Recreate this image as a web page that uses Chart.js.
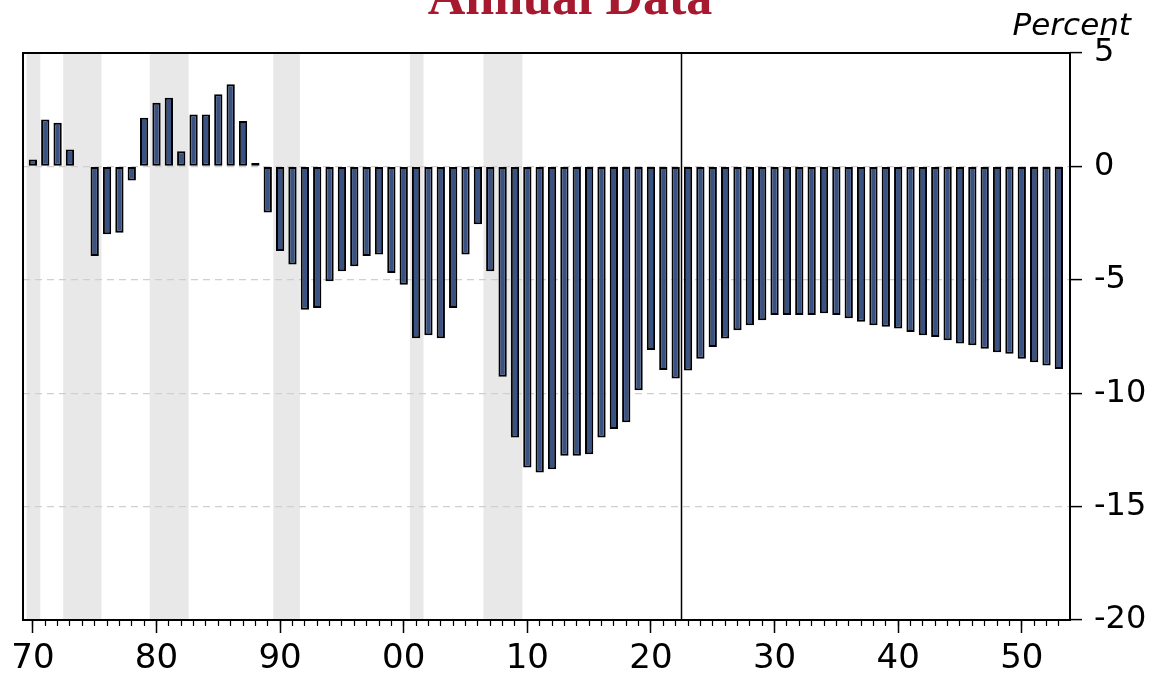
<!DOCTYPE html>
<html>
<head>
<meta charset="utf-8">
<script src="https://cdn.jsdelivr.net/npm/chart.js@4/dist/chart.umd.min.js"></script>
<style>
  html, body { margin: 0; padding: 0; background: #ffffff; }
  #wrap { width: 1154px; height: 678px; position: relative; }
</style>
</head>
<body>
<div id="wrap"><canvas id="c" width="1154" height="678"></canvas></div>
<script>
// ---- Data ----
const years = [];
for (let y = 1970; y <= 2053; y++) years.push(y);

const values = [
  0.30, 2.07, 1.92, 0.74, null, -3.95, -2.99, -2.92, -0.62, 2.14,   // 1970-1979
  2.81, 3.03, 0.67, 2.29, 2.29, 3.18, 3.62, 2.00, 0.15, -2.03,      // 1980-1989
  -3.73, -4.32, -6.32, -6.24, -5.06, -4.62, -4.40, -3.95, -3.88, -4.70, // 1990-1999
  -5.22, -7.58, -7.44, -7.58, -6.24, -3.88, -2.55, -4.62, -9.28, -11.95, // 2000-2009
  -13.28, -13.50, -13.35, -12.76, -12.76, -12.69, -11.95, -11.58, -11.28, -9.87, // 2010-2019
  -8.10, -8.98, -9.35, -9.00, -8.48, -7.96, -7.59, -7.22, -7.00, -6.78, // 2020-2029
  -6.55, -6.55, -6.55, -6.55, -6.48, -6.55, -6.70, -6.85, -7.00, -7.07, // 2030-2039
  -7.15, -7.30, -7.44, -7.52, -7.67, -7.81, -7.89, -8.04, -8.19, -8.26, // 2040-2049
  -8.48, -8.63, -8.78, -8.93                                           // 2050-2053
];

const recessions = [[1969.5, 1970.6], [1972.45, 1975.55], [1979.45, 1982.6], [1989.45, 1991.6], [2000.5, 2001.6], [2006.45, 2009.6]];
const forecastStart = 2022.45;
const majorTicks = [1970, 1980, 1990, 2000, 2010, 2020, 2030, 2040, 2050];
const yTicks = [5, 0, -5, -10, -15, -20];
const xMin = 1969.2, xMax = 2053.9;
const titleText = "Annual Data";
const unitText = "Percent";

// ---- Plugins ----
const shadingPlugin = {
  id: 'shading',
  beforeDraw(chart) {
    const {ctx, chartArea: a, scales: {x}} = chart;
    ctx.save();
    ctx.beginPath(); ctx.rect(a.left, a.top, a.right - a.left, a.bottom - a.top); ctx.clip();
    ctx.fillStyle = '#e8e8e8';
    recessions.forEach(([s, e]) => {
      const x1 = x.getPixelForValue(s), x2 = x.getPixelForValue(e);
      ctx.fillRect(x1, a.top, x2 - x1, a.bottom - a.top);
    });
    ctx.restore();
  }
};

const framePlugin = {
  id: 'frame',
  afterDatasetsDraw(chart) {
    const {ctx, chartArea: a, scales: {x}} = chart;
    ctx.save();
    const fx = Math.round(x.getPixelForValue(forecastStart)) + 0.5;
    ctx.strokeStyle = '#000'; ctx.lineWidth = 1.5;
    ctx.beginPath(); ctx.moveTo(fx, a.top); ctx.lineTo(fx, a.bottom); ctx.stroke();
    ctx.lineWidth = 2;
    ctx.strokeRect(a.left, a.top, a.right - a.left, a.bottom - a.top);
    ctx.restore();
  },
  afterDraw(chart) {
    const {ctx} = chart;
    ctx.save();
    ctx.fillStyle = '#a6192e';
    ctx.font = 'bold 52px "Liberation Serif", "Times New Roman", serif';
    ctx.textAlign = 'center'; ctx.textBaseline = 'alphabetic';
    ctx.fillText(titleText, 570, 14);
    ctx.fillStyle = '#000';
    ctx.font = 'italic 31px "DejaVu Sans", sans-serif';
    ctx.textAlign = 'right';
    ctx.fillText(unitText, 1131, 35);
    ctx.restore();
  }
};

const data = years.map((yr, i) => ({x: yr, y: values[i]}));

new Chart(document.getElementById('c'), {
  type: 'bar',
  data: {
    datasets: [{
      data: data,
      backgroundColor: '#3a5282',
      borderColor: '#000000',
      borderWidth: 2,
      borderSkipped: false,
      barPercentage: 0.67,
      categoryPercentage: 1.0,
      xAxisID: 'x',
      yAxisID: 'y'
    }]
  },
  options: {
    responsive: false,
    animation: false,
    devicePixelRatio: 1,
    layout: { padding: { top: 53, left: 23, right: 0, bottom: 0 } },
    plugins: { legend: { display: false }, title: { display: false }, tooltip: { enabled: false } },
    scales: {
      xMinor: {
        type: 'linear', position: 'bottom', min: xMin, max: xMax, weight: 0, offset: false,
        afterBuildTicks: (s) => { s.ticks = years.map(v => ({value: v})); },
        afterFit: (s) => { s.height = 0; },
        ticks: { display: false },
        grid: { offset: false, drawOnChartArea: false, drawTicks: true, tickLength: 6, tickColor: '#000', tickWidth: 1.2 },
        border: { display: false }
      },
      x: {
        type: 'linear', position: 'bottom', min: xMin, max: xMax, weight: 1, offset: false,
        afterBuildTicks: (s) => { s.ticks = majorTicks.map(v => ({value: v})); },
        afterFit: (s) => { s.height = 58; },
        ticks: {
          autoSkip: false, maxRotation: 0, padding: 6, color: '#000',
          font: { family: '"DejaVu Sans", sans-serif', size: 34 },
          callback: (v) => String(((v % 100) + 100) % 100).padStart(2, '0')
        },
        grid: { offset: false, drawOnChartArea: false, drawTicks: true, tickLength: 13, tickColor: '#000', tickWidth: 1.5 },
        border: { display: false }
      },
      y: {
        type: 'linear', position: 'right', min: -20, max: 5,
        afterBuildTicks: (s) => { s.ticks = yTicks.map(v => ({value: v})); },
        afterFit: (s) => { s.width = 84; },
        ticks: {
          padding: 12, color: '#000',
          font: { family: '"DejaVu Sans", sans-serif', size: 32 }
        },
        grid: {
          drawOnChartArea: true, drawTicks: true, tickLength: 12,
          color: (c) => (c.tick && (c.tick.value === 5 || c.tick.value === -20)) ? 'rgba(0,0,0,0)' : '#cfcfcf',
          lineWidth: 1.2,
          tickColor: '#000', tickWidth: 1.5, tickBorderDash: []
        },
        border: { display: false, dash: [7, 5] }
      }
    }
  },
  plugins: [shadingPlugin, framePlugin]
});
</script>
</body>
</html>
